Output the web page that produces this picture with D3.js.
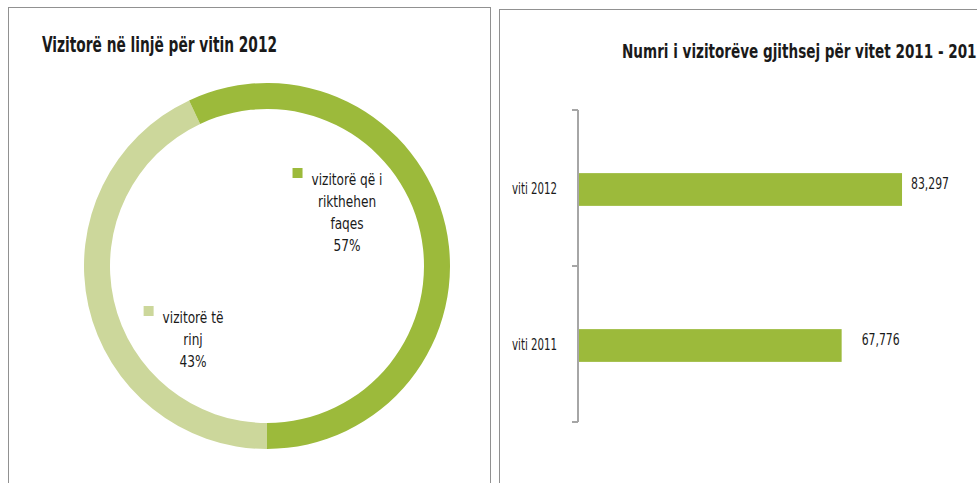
<!DOCTYPE html>
<html lang="sq">
  <head>
    <meta charset="utf-8">
    <title>Vizitorë</title>
    <script src="https://d3js.org/d3.v7.min.js"></script>
    <style>
      body { margin: 0; background: #fff; }
      svg text { font-family: "DejaVu Sans Condensed", "DejaVu Sans", sans-serif; font-stretch: condensed; fill: #1a1a1a; }
    </style>
  </head>
  <body>
    <div id="chart"></div>
    <script type="text/javascript">
      // donut data (order as drawn, starting from the bottom)
      var pieLabels = [["vizitorë të", "rinj"], ["vizitorë që i", "rikthehen", "faqes"]];
      var pieValues = [43, 57];
      var pieColors = ["#ccd79b", "#9cba3b"];

      // bar data
      var barCategories = ["viti 2012", "viti 2011"];
      var barValues = [83297, 67776];

      var leftTitle = "Vizitorë në linjë për vitin 2012";
      var rightTitle = "Numri i vizitorëve gjithsej për vitet 2011 - 2012";

      // label block centres, relative to the donut centre
      var labelOffsets = [[-74, 74], [80, -53]];

      var svg = d3.select("#chart")
        .append("svg")
        .attr("width", 977)
        .attr("height", 483);

      // dotted panel borders
      svg.append("rect")
        .attr("x", 8.5).attr("y", 7.5)
        .attr("width", 482).attr("height", 500)
        .attr("fill", "none")
        .attr("stroke", "#222")
        .attr("stroke-dasharray", "1,1");
      svg.append("rect")
        .attr("x", 499.5).attr("y", 9.5)
        .attr("width", 500).attr("height", 500)
        .attr("fill", "none")
        .attr("stroke", "#222")
        .attr("stroke-dasharray", "1,1");

      // titles
      svg.append("text")
        .attr("x", 42).attr("y", 52)
        .attr("textLength", 235)
        .attr("lengthAdjust", "spacingAndGlyphs")
        .style("font-size", "22px")
        .style("font-weight", "bold")
        .text(leftTitle);
      svg.append("text")
        .attr("x", 622).attr("y", 58)
        .attr("textLength", 364)
        .attr("lengthAdjust", "spacingAndGlyphs")
        .style("font-size", "20px")
        .style("font-weight", "bold")
        .text(rightTitle);

      // ---- donut ----
      var cx = 267, cy = 266;
      var pie = d3.pie().sort(null)
        .startAngle(Math.PI)
        .endAngle(3 * Math.PI);
      var arc = d3.arc().innerRadius(157).outerRadius(183);

      var donut = svg.append("g").attr("transform", "translate(" + cx + "," + cy + ")");
      donut.selectAll("path")
        .data(pie(pieValues))
        .enter()
        .append("path")
        .attr("d", arc)
        .attr("fill", (d, i) => pieColors[i]);

      // data labels
      pieValues.forEach(function(v, i) {
        var lines = pieLabels[i].concat([v + "%"]);
        var lx = cx + labelOffsets[i][0];
        var top = cy + labelOffsets[i][1] - (lines.length - 1) * 22 / 2;
        var g = svg.append("g");
        g.selectAll("text")
          .data(lines)
          .enter()
          .append("text")
          .attr("x", lx)
          .attr("y", (t, j) => top + j * 22)
          .attr("text-anchor", "middle")
          .attr("dy", "0.35em")
          .style("font-size", "15px")
          .text(t => t)
          .each(function() {
            this.setAttribute("textLength", this.getComputedTextLength() * 0.9);
            this.setAttribute("lengthAdjust", "spacingAndGlyphs");
          });
        var w = g.select("text").node().getComputedTextLength();
        g.append("rect")
          .attr("x", lx - w / 2 - 19)
          .attr("y", top - 12)
          .attr("width", 10).attr("height", 10)
          .attr("fill", pieColors[i]);
      });

      // ---- bars ----
      var x = d3.scaleLinear().domain([0, 100000]).range([578, 967]);
      var y = d3.scaleBand().domain(barCategories).range([110, 422]).paddingInner(0.79).paddingOuter(0.395);
      var yAxisScale = d3.scaleBand().domain(barCategories).range([110, 422]);

      svg.selectAll(".bar")
        .data(barValues)
        .enter()
        .append("rect")
        .attr("class", "bar")
        .attr("x", x(0))
        .attr("y", (d, i) => y(barCategories[i]) + 1.5)
        .attr("width", d => x(d) - x(0))
        .attr("height", y.bandwidth())
        .attr("fill", pieColors[1]);

      // axis with ticks at band boundaries
      var axisG = svg.append("g");
      axisG.append("line")
        .attr("x1", 578).attr("x2", 578)
        .attr("y1", yAxisScale.range()[0]).attr("y2", yAxisScale.range()[1])
        .attr("stroke", "#a6a6a6").attr("stroke-width", 2);
      var bounds = barCategories.map(c => yAxisScale(c)).concat([yAxisScale.range()[1]]);
      axisG.selectAll(".tick")
        .data(bounds)
        .enter()
        .append("line")
        .attr("x1", 572).attr("x2", 578)
        .attr("y1", d => d).attr("y2", d => d)
        .attr("stroke", "#a6a6a6").attr("stroke-width", 2);
      axisG.selectAll(".cat")
        .data(barCategories)
        .enter()
        .append("text")
        .attr("x", 557)
        .attr("y", d => yAxisScale(d) + yAxisScale.bandwidth() / 2 + 1)
        .attr("dy", "0.35em")
        .attr("text-anchor", "end")
        .style("font-size", "15px")
        .text(d => d)
        .each(function() {
          this.setAttribute("textLength", 45);
          this.setAttribute("lengthAdjust", "spacingAndGlyphs");
        });

      // value labels
      svg.selectAll(".val")
        .data(barValues)
        .enter()
        .append("text")
        .attr("x", d => x(d) + (d > 80000 ? 9 : 20))
        .attr("y", (d, i) => y(barCategories[i]) + y.bandwidth() / 2 - 4)
        .attr("dy", "0.35em")
        .style("font-size", "15px")
        .text(d => d3.format(",")(d))
        .each(function() {
          this.setAttribute("textLength", 38);
          this.setAttribute("lengthAdjust", "spacingAndGlyphs");
        });
    </script>
  </body>
</html>
